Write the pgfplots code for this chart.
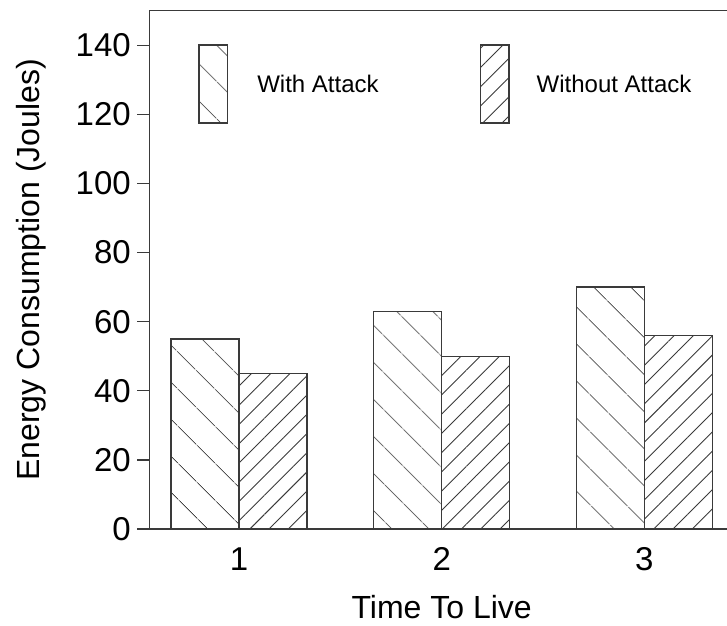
\documentclass[border=0pt]{standalone}
\usepackage{pgfplots}
\pgfplotsset{compat=1.18}
\usetikzlibrary{patterns.meta}
\usepackage{fontspec}
\setmainfont{Liberation Sans}
\definecolor{ln}{HTML}{3A3A3A}
\pgfplotsset{boxlegend/.style={legend image code/.code={\draw[##1] (0pt,-39pt) rectangle (28.7pt,39pt);}}}
\begin{document}
\begin{tikzpicture}
\useasboundingbox (0pt,0pt) rectangle (727pt,625pt);
\begin{axis}[
  at={(149.3pt,96pt)}, anchor=south west,
  scale only axis, width=584.7pt, height=518.3pt,
  xmin=0.557, xmax=3.4426, ymin=0, ymax=150,
  ybar=0pt, bar width=0.3355,
  xtick={1,2,3}, ytick={0,20,40,60,80,100,120,140},
  xtick pos=bottom, ytick pos=left,
  major x tick style={draw=none},
  tick align=outside, major tick length=12pt,
  every tick/.style={ln, line width=1.3pt},
  axis line style={ln, line width=1.3pt},
  /pgf/number format/assume math mode=true,
  yticklabel style={font=\fontsize{33}{40}\selectfont, black, xshift=-3pt},
  xticklabel style={font=\fontsize{33}{40}\selectfont, black, yshift=-3pt},
  label style={font=\fontsize{32}{38}\selectfont, black},
  xlabel={Time To Live},
  ylabel={Energy Consumption (Joules)},
  xlabel style={at={(axis description cs:0.5,-0.1720)}, anchor=base, inner sep=0pt},
  ylabel style={at={(axis description cs:-0.1881,0.5)}, anchor=base, inner sep=0pt},
  legend style={draw=none, fill=none, at={(axis description cs:0.0838,0.9352)}, anchor=north west,
    inner sep=0pt, outer sep=0pt, font=\fontsize{24}{29}\selectfont,
    nodes={inner sep=0pt, text depth=0pt}, cells={anchor=west},
    /tikz/column 1/.style={column sep=29pt},
    /tikz/column 2/.style={column sep=101pt},
    /tikz/column 3/.style={column sep=27pt}},
  legend columns=2,
]
\addplot[draw=ln, line width=1.3pt, pattern={Lines[angle=-45,distance=27pt,line width=0.9pt]}, pattern color=ln, boxlegend]
  coordinates {(1,55) (2,63) (3,70)};
\addplot[draw=ln, line width=1.3pt, pattern={Lines[angle=45,distance=13.6pt,line width=0.9pt]}, pattern color=ln, boxlegend]
  coordinates {(1,45) (2,50) (3,56)};
\legend{With Attack, Without Attack}
\end{axis}
\end{tikzpicture}
\end{document}
